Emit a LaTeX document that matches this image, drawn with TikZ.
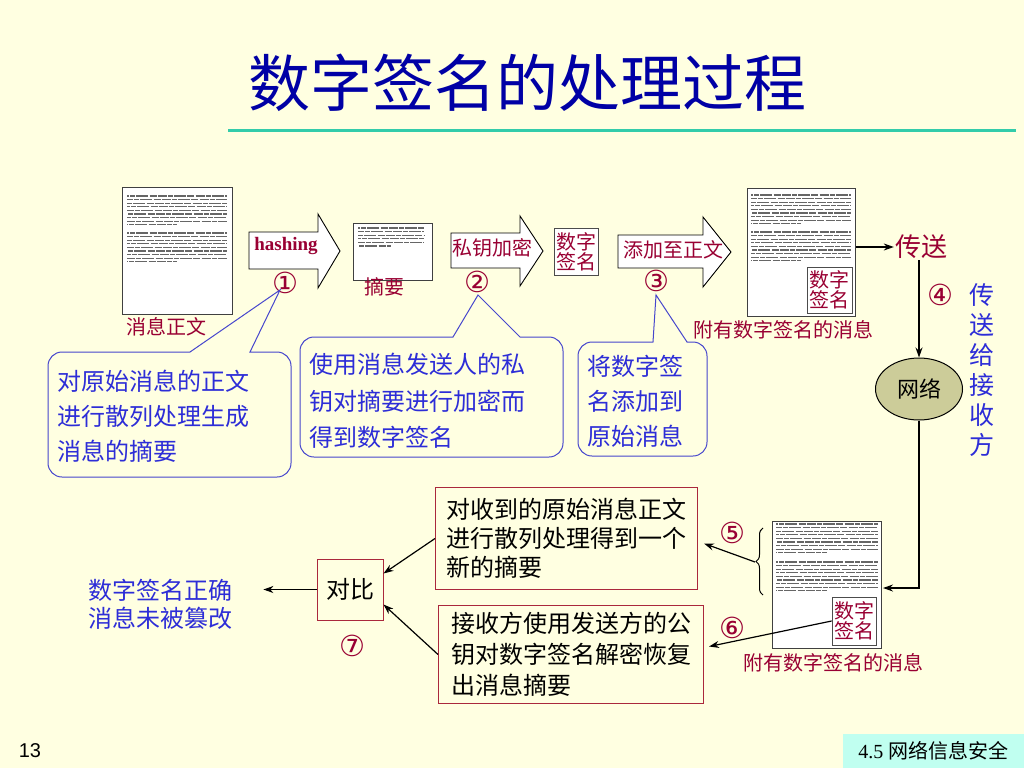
\documentclass[tikz,border=0pt]{standalone}
\usepackage{fontspec}
\newfontfamily\cjk{Noto Sans CJK SC}
\newfontfamily\tnr{Liberation Serif}
\newfontfamily\arial{Liberation Sans}
\newfontfamily\dejavu{DejaVu Sans}
\usetikzlibrary{arrows.meta,decorations.pathreplacing,shapes.geometric}
\definecolor{bg}{RGB}{255,255,225}
\definecolor{dred}{RGB}{153,0,51}
\definecolor{cblue}{RGB}{45,45,215}
\definecolor{cline}{RGB}{70,70,205}
\definecolor{tblue}{RGB}{0,0,165}
\definecolor{teal1}{RGB}{51,204,170}
\definecolor{khaki}{RGB}{204,204,153}
\definecolor{bred}{RGB}{170,40,60}
\definecolor{foot}{RGB}{192,255,240}
\newcommand{\paralines}[4]{%
  \foreach \k in {1,...,#4}{%
    \pgfmathsetmacro{\ww}{ifthenelse(\k==#4,0.5*#3,#3)}%
    \pgfmathsetmacro{\ph}{mod(\k*7,11)}%
    \draw[txtline, dash pattern=on 9pt off 1.2pt on 5pt off 1.2pt on 12pt off 1.2pt on 7pt off 1.2pt, dash phase=\ph pt] (#1,#2+3.6*\k-3.6) -- ++(\ww,0);}}
\begin{document}
\begin{tikzpicture}[x=1pt,y=-1pt,
  doc/.style={draw=black!75, fill=white, line width=0.8pt, inner sep=0pt, anchor=north west},
  txtline/.style={line width=1.3pt, black!60},
  lbl/.style={text=dred, font=\cjk\fontsize{20}{22}\selectfont, inner sep=1pt},
  num/.style={text=dred, font=\dejavu\fontsize{29}{30}\selectfont, inner sep=0pt},
  blk/.style={draw=black, fill=white, line width=0.9pt, line join=miter},
  sigbox/.style={draw=black!70, fill=white, line width=0.8pt, text=dred, font=\cjk\fontsize{20}{20}\selectfont, align=center, inner sep=1pt},
  callout/.style={draw=cline, fill=bg, line width=1pt},
  ctext/.style={text=cblue, font=\cjk\fontsize{24}{35}\selectfont, align=left, inner sep=0pt},
  rbox/.style={draw=bred, line width=1pt, fill=bg},
  btext/.style={font=\cjk\fontsize{24}{29}\selectfont, align=left, inner sep=0pt},
  arr/.style={-{Stealth[length=10pt,width=7pt]}, line width=1.2pt}]
\useasboundingbox (0,0) rectangle (1024,768);
\fill[bg] (0,0) rectangle (1024,768);

% title
\node[font=\cjk\fontsize{62}{62}\selectfont, text=tblue] (title) at (527,83) {数字签名的处理过程};
\draw[teal1, line width=3pt] (228,130) -- (1016,130);

% document 1
\node[doc, minimum width=110pt, minimum height=127pt] (doc1) at (122,187) {};
\paralines{127}{196}{100}{9}
\paralines{127}{233}{100}{9}
\node[lbl] (l1) at (166,327) {消息正文};

% hashing arrow
\draw[blk] (249,232) -- (318,232) -- (318,214) -- (340,251) -- (318,288) -- (318,269) -- (249,269) -- cycle;
\node[font=\tnr\bfseries\fontsize{19}{20}\selectfont, text=dred] (hash) at (286,246) {hashing};
\node[num] (n1) at (285,283) {①};

% digest document
\node[doc, minimum width=79pt, minimum height=57pt] (doc2) at (353,223) {};
\paralines{358}{228}{66}{6}
\node[lbl] (l2) at (384,287) {摘要};

% private key arrow
\draw[blk] (451,233) -- (520,233) -- (520,216) -- (543,251) -- (520,286) -- (520,268) -- (451,268) -- cycle;
\node[lbl] (enc) at (492,248) {私钥加密};
\node[num] (n2) at (477,282) {②};

% signature
\node[sigbox, minimum width=44pt, minimum height=47pt] (sig) at (576,251.5) {数字\\签名};

% append arrow
\draw[blk] (618,235) -- (703,235) -- (703,217) -- (731,252) -- (703,287) -- (703,268) -- (618,268) -- cycle;
\node[lbl] (app) at (673,250) {添加至正文};
\node[num] (n3) at (656,281) {③};

% signed document
\node[doc, minimum width=108pt, minimum height=128pt] (doc3) at (747,188) {};
\paralines{751}{195}{100}{9}
\paralines{751}{232}{100}{9}
\node[sigbox, minimum width=45pt, minimum height=46pt] (sig3) at (829.5,290) {数字\\签名};
\node[lbl] (l3) at (783,330) {附有数字签名的消息};

% send
\node[text=dred, font=\cjk\fontsize{26}{26}\selectfont, inner sep=1pt] (send) at (921,247) {传送};
\draw[arr] (doc3.east |- send.west) -- (send.west);
\node[draw, fill=khaki, ellipse, minimum width=87pt, minimum height=62pt, line width=1pt, font=\cjk\fontsize{22}{22}\selectfont] (net) at (919,389) {网络};
\draw[arr] (net.north |- send.south) -- (net.north);
\node[num] (n4) at (940,295) {④};
\node[text=cblue, font=\cjk\fontsize{25}{30}\selectfont, align=center, inner sep=0pt] (vt) at (982,370) {传\\送\\给\\接\\收\\方};

% callouts
\draw[callout] (280,290) -- (250,352) [rounded corners=14pt] -- (291,352) -- (291,477) -- (48,477) -- (48,352) [sharp corners] -- (190,352) -- cycle;
\node[ctext, anchor=west] (t1) at (57,416) {对原始消息的正文\\进行散列处理生成\\消息的摘要};
\draw[callout] (478,295) -- (520,337) [rounded corners=14pt] -- (563,337) -- (563,457) -- (300,457) -- (300,337) [sharp corners] -- (453,337) -- cycle;
\node[ctext, anchor=west, font=\cjk\fontsize{24}{36.5}\selectfont] (t2) at (309,401) {使用消息发送人的私\\钥对摘要进行加密而\\得到数字签名};
\draw[callout] (656,295) -- (687,342) [rounded corners=14pt] -- (707,342) -- (707,456) -- (578,456) -- (578,342) [sharp corners] -- (653,342) -- cycle;
\node[ctext, anchor=west] (t3) at (587,401) {将数字签\\名添加到\\原始消息};

% received document
\node[doc, minimum width=109pt, minimum height=127pt] (doc4) at (772,521) {};
\paralines{776}{524}{102}{9}
\paralines{776}{562}{102}{9}
\node[sigbox, minimum width=44pt, minimum height=48pt] (sig4) at (854,621) {数字\\签名};
\node[lbl] (l4) at (833,663) {附有数字签名的消息};
\coordinate (d4in) at (883,588);
\draw[arr] (net.south) |- (d4in);
\draw[decorate, decoration={brace, amplitude=7pt}, line width=1pt] (763,595) -- (763,528);
\coordinate (br) at (755,562);

% receiver boxes
\node[rbox, btext, anchor=north west, minimum width=262pt, minimum height=102pt] (b5) at (435,487) {对收到的原始消息正文\\进行散列处理得到一个\\新的摘要};
\node[rbox, btext, anchor=north west, minimum width=265pt, minimum height=98pt, font=\cjk\fontsize{24}{31}\selectfont] (b6) at (438,605) {接收方使用发送方的公\\钥对数字签名解密恢复\\出消息摘要};
\draw[arr] (br) -- ([xshift=6pt,yshift=-5pt]b5.east);
\draw[arr] (sig4.west) -- ([xshift=5pt,yshift=8pt]b6.east);
\node[num] (n5) at (732,533) {⑤};
\node[num] (n6) at (732,628) {⑥};

% compare
\node[draw=bred, line width=1pt, minimum width=66pt, minimum height=61pt, font=\cjk\fontsize{24}{24}\selectfont] (cmp) at (350,589.5) {对比};
\draw[arr] (b5.west) -- ([yshift=16pt]cmp.east);
\draw[arr] (b6.west) -- ([yshift=-15pt]cmp.east);
\node[num] (n7) at (352,646) {⑦};
\node[ctext, font=\cjk\fontsize{24}{28}\selectfont, anchor=west] (res) at (88,604) {数字签名正确\\消息未被篡改};
\draw[arr, shorten >=31pt] (cmp.west) -- (res.east |- cmp.west);

% footer
\node[font=\arial\fontsize{20}{20}\selectfont] (pg) at (30,751) {13};
\node[fill=foot, minimum width=181pt, minimum height=34pt, anchor=south east, font=\cjk\fontsize{20}{20}\selectfont] (ft) at (1024,768) {\tnr 4.5 \cjk 网络信息安全};
\end{tikzpicture}
\end{document}
